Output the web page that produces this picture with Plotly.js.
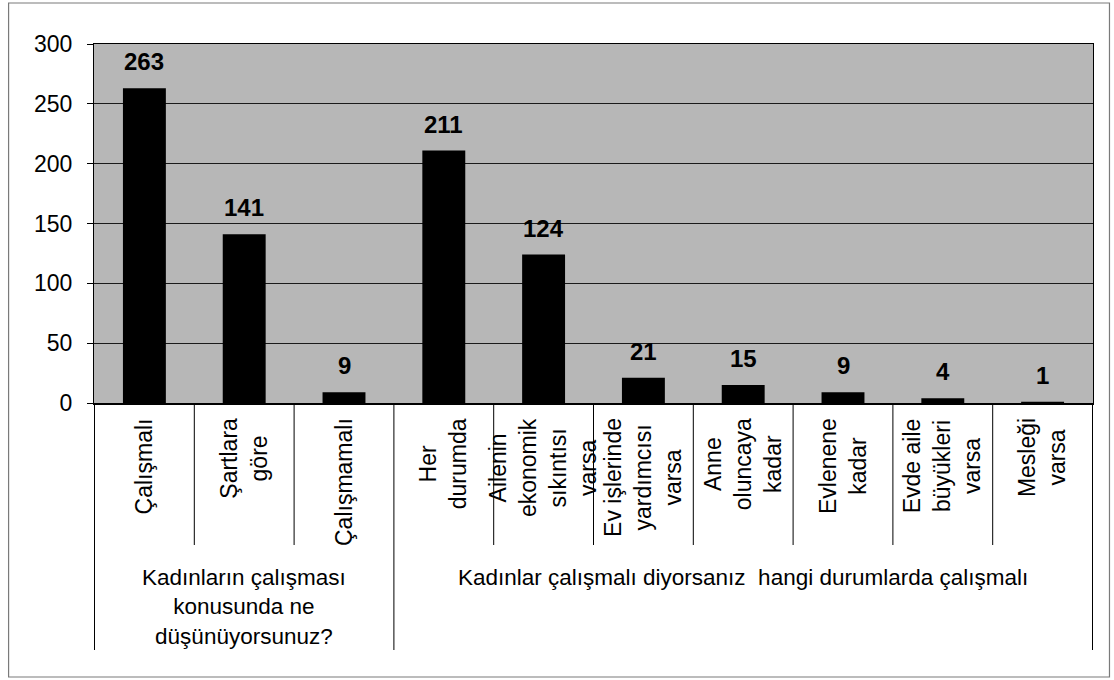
<!DOCTYPE html>
<html>
<head>
<meta charset="utf-8">
<script src="https://cdn.plot.ly/plotly-3.0.1.min.js"></script>
<style>html,body{margin:0;padding:0;background:#fff}#chart{width:1114px;height:680px}</style>
</head>
<body>
<div id="chart"></div>
<script>
var categories = ["Çalışmalı", "Şartlara<br>göre", "Çalışmamalı", "Her<br>durumda",
  "Ailenin<br>ekonomik<br>sıkıntısı<br>varsa", "Ev işlerinde<br>yardımcısı<br>varsa",
  "Anne<br>oluncaya<br>kadar", "Evlenene<br>kadar", "Evde aile<br>büyükleri<br>varsa", "Mesleği<br>varsa"];
var values = [263, 141, 9, 211, 124, 21, 15, 9, 4, 1];
var groupLabels = ["Kadınların çalışması<br>konusunda ne<br>düşünüyorsunuz?",
  "Kadınlar çalışmalı diyorsanız\u00a0 hangi durumlarda çalışmalı"];
var groupStart = [0, 3];
var groupEnd = [2, 9];
var yTicks = [0, 50, 100, 150, 200, 250, 300];

var FONT = "Liberation Sans, Arial, sans-serif";
var PLOT_H = 359;          // plot area height in px (for paper conversion)
function py(px) { return -px / PLOT_H; }  // px below the x axis -> paper y

var trace = {
  type: "bar",
  x: categories,
  y: values,
  width: 0.43,
  marker: {color: "#000000", line: {width: 0}},
  hoverinfo: "skip"
};

var annotations = [];
for (var i = 0; i < categories.length; i++) {
  annotations.push({
    x: categories[i], y: values[i], xref: "x", yref: "y",
    text: String(values[i]), showarrow: false,
    xanchor: "center", yanchor: "bottom", yshift: 11,
    font: {family: FONT, size: 24, color: "#000", weight: "bold"}
  });
  annotations.push({
    x: categories[i], y: py(13), xref: "x", yref: "paper",
    text: categories[i], showarrow: false, textangle: -90,
    xanchor: "center", yanchor: "top", align: "center",
    font: {family: FONT, size: 23, color: "#000"}
  });
}
for (var g = 0; g < groupLabels.length; g++) {
  annotations.push({
    x: (groupStart[g] + groupEnd[g]) / 2, y: py(160), xref: "x", yref: "paper",
    text: groupLabels[g], showarrow: false,
    xanchor: "center", yanchor: "top", align: "center",
    font: {family: FONT, size: 22.5, color: "#000"}
  });
}

var shapes = [];
var isGroupEdge = {};
for (var g2 = 0; g2 < groupStart.length; g2++) {
  isGroupEdge[groupStart[g2] - 0.5] = true;
  isGroupEdge[groupEnd[g2] + 0.5] = true;
}
for (var k = 0; k <= categories.length; k++) {
  var xb = k - 0.5;
  shapes.push({
    type: "line", xref: "x", yref: "paper",
    x0: xb, x1: xb, y0: 0, y1: isGroupEdge[xb] ? py(247) : py(142),
    line: {color: "#000", width: 1}
  });
}
shapes.push({
  type: "rect", xref: "paper", yref: "paper",
  x0: -85.5 / 1000, x1: 1016.5 / 1000, y0: py(274), y1: 1 + 41 / PLOT_H,
  line: {color: "#7a7a7a", width: 1.2}
});

var layout = {
  width: 1114, height: 680,
  margin: {l: 93.5, r: 20.5, t: 44, b: 277},
  paper_bgcolor: "#ffffff",
  plot_bgcolor: "#b7b7b7",
  showlegend: false,
  xaxis: {
    type: "category",
    showticklabels: false,
    showgrid: false,
    ticks: "",
    showline: true, linecolor: "#000", linewidth: 1.5, mirror: true,
    fixedrange: true
  },
  yaxis: {
    range: [0, 300],
    tickvals: yTicks,
    ticktext: yTicks.map(String),
    showgrid: true, gridcolor: "#1a1a1a", gridwidth: 1,
    zeroline: false,
    ticks: "outside", ticklen: 6, tickcolor: "#000",
    showline: true, linecolor: "#000", linewidth: 1, mirror: true,
    tickfont: {family: FONT, size: 23, color: "#000"},
    ticklabelstandoff: 10,
    fixedrange: true
  },
  annotations: annotations,
  shapes: shapes
};

Plotly.newPlot("chart", [trace], layout, {displayModeBar: false, staticPlot: true});
</script>
</body>
</html>
